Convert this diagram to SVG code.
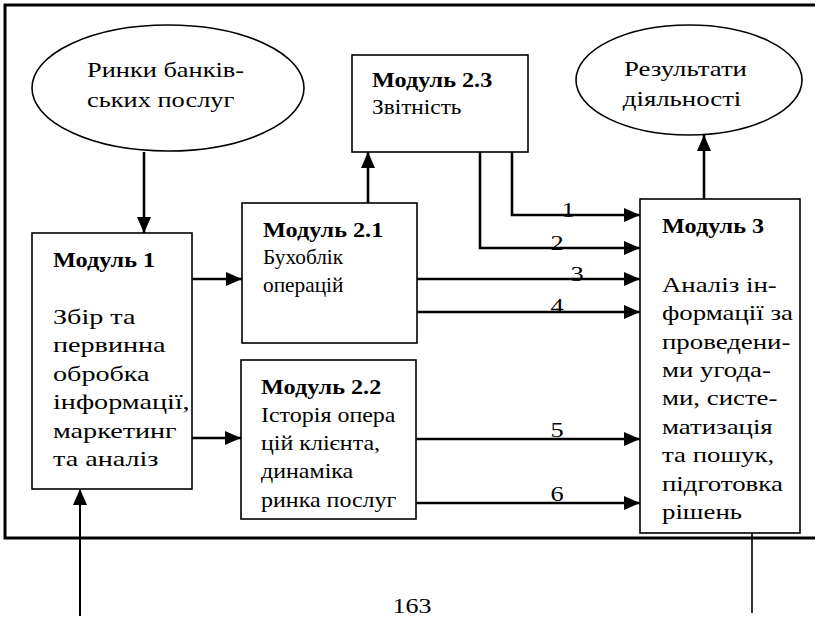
<svg xmlns="http://www.w3.org/2000/svg" width="817" height="617" viewBox="0 0 817 617">
  <style>
    text { font-family: "Liberation Serif", "Times New Roman", serif; font-size: 22px; fill: #000; }
    .b { font-weight: bold; }
    .box { fill: #fff; stroke: #000; stroke-width: 1.6; }
    .ell { fill: #fff; stroke: #000; stroke-width: 1.6; }
    .frame { fill: none; stroke: #000; stroke-width: 3; }
    .arr { fill: none; stroke: #000; stroke-width: 2.6; marker-end: url(#ah); }
    .thin { fill: none; stroke: #000; stroke-width: 1.6; }
    .lbl { text-anchor: middle; }
  </style>
  <defs>
    <marker id="ah" viewBox="0 0 16 14" refX="16" refY="7" markerWidth="16" markerHeight="14" markerUnits="userSpaceOnUse" orient="auto">
      <path d="M0,0 L16,7 L0,14 z" fill="#000"/>
    </marker>
  </defs>

  <!-- page frame (open on the right) -->
  <path class="frame" d="M815,5 H5 V538 H815"/>

  <!-- each text block is widened horizontally to its set width -->
  <g id="markets">
    <ellipse class="ell" cx="168" cy="88" rx="136" ry="63"/>
    <g transform="translate(87 0) scale(1.2 1)">
      <text x="0" y="77">Ринки банків-</text>
      <text x="0" y="107">ських послуг</text>
    </g>
  </g>

  <g id="results">
    <ellipse class="ell" cx="689" cy="80" rx="113" ry="55"/>
    <g transform="translate(624 0) scale(1.22 1)">
      <text x="0" y="76">Результати</text>
      <text x="-1" y="106">діяльності</text>
    </g>
  </g>

  <g id="module1">
    <rect class="box" x="32" y="233" width="160" height="256"/>
    <g transform="translate(53 0) scale(1.1 1)">
      <text class="b" x="0" y="267">Модуль 1</text>
    </g>
    <g transform="translate(53 0) scale(1.28 1)">
      <text x="0" y="324">Збір та</text>
      <text x="0" y="352">первинна</text>
      <text x="0" y="381">обробка</text>
      <text x="0" y="409">інформації,</text>
      <text x="0" y="438">маркетинг</text>
      <text x="0" y="466">та аналіз</text>
    </g>
  </g>

  <g id="module21">
    <rect class="box" x="242" y="203" width="175" height="140"/>
    <g transform="translate(263 0) scale(1.1 1)">
      <text class="b" x="0" y="237">Модуль 2.1</text>
    </g>
    <g transform="translate(263 0) scale(0.97 1)">
      <text x="0" y="264">Бухоблік</text>
      <text x="0" y="292">операцій</text>
    </g>
  </g>

  <g id="module22">
    <rect class="box" x="241" y="360" width="175" height="159"/>
    <g transform="translate(261 0) scale(1.1 1)">
      <text class="b" x="0" y="394">Модуль 2.2</text>
    </g>
    <g transform="translate(261 0) scale(1.09 1)">
      <text x="0" y="422">Історія опера</text>
      <text x="0" y="450">цій клієнта,</text>
      <text x="0" y="478">динаміка</text>
      <text x="0" y="507">ринка послуг</text>
    </g>
  </g>

  <g id="module23">
    <rect class="box" x="352" y="55" width="176" height="97"/>
    <g transform="translate(372 0) scale(1.1 1)">
      <text class="b" x="0" y="87">Модуль 2.3</text>
    </g>
    <g transform="translate(372 0) scale(1.06 1)">
      <text x="0" y="114">Звітність</text>
    </g>
  </g>

  <g id="module3">
    <rect class="box" x="640" y="199" width="160" height="334"/>
    <g transform="translate(662 0) scale(1.1 1)">
      <text class="b" x="0" y="233">Модуль 3</text>
    </g>
    <g transform="translate(662 0) scale(1.22 1)">
      <text x="0" y="292">Аналіз ін-</text>
      <text x="0" y="320">формації за</text>
      <text x="0" y="349">проведени-</text>
      <text x="0" y="377">ми угода-</text>
      <text x="0" y="405">ми, систе-</text>
      <text x="0" y="434">матизація</text>
      <text x="0" y="462">та пошук,</text>
      <text x="0" y="491">підготовка</text>
      <text x="0" y="519">рішень</text>
    </g>
  </g>

  <g id="connectors">
    <path class="arr" d="M144,152 V233"/>
    <path class="arr" d="M368,203 V152"/>
    <path class="arr" d="M704,199 V135"/>
    <path class="arr" d="M192,279 H242"/>
    <path class="arr" d="M192,438 H241"/>
    <path class="arr" d="M512,152 V215 H640"/>
    <path class="arr" d="M480,152 V248 H640"/>
    <path class="arr" d="M417,279 H640"/>
    <path class="arr" d="M417,312 H640"/>
    <path class="arr" d="M416,439 H640"/>
    <path class="arr" d="M416,503 H640"/>
    <path class="arr" style="stroke-width:2" d="M80,616 V489"/>
    <path class="thin" d="M752,533 V613"/>
    <g transform="translate(568 0) scale(1.2 1)"><text class="lbl" x="0" y="217">1</text></g>
    <g transform="translate(557 0) scale(1.2 1)"><text class="lbl" x="0" y="250">2</text></g>
    <g transform="translate(577 0) scale(1.2 1)"><text class="lbl" x="0" y="281">3</text></g>
    <g transform="translate(557 0) scale(1.2 1)"><text class="lbl" x="0" y="313">4</text></g>
    <g transform="translate(557 0) scale(1.2 1)"><text class="lbl" x="0" y="437">5</text></g>
    <g transform="translate(557 0) scale(1.2 1)"><text class="lbl" x="0" y="501">6</text></g>
  </g>

  <g transform="translate(412 0) scale(1.18 1)">
    <text class="lbl" x="0" y="613">163</text>
  </g>
</svg>
